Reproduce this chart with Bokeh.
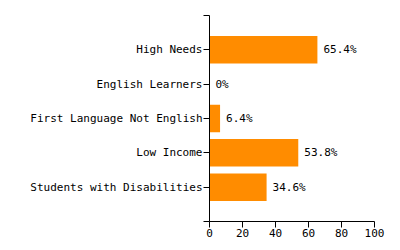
from bokeh.plotting import figure
from bokeh.models import ColumnDataSource, Range1d, FixedTicker
from bokeh.core.properties import value
from bokeh.embed import file_html
from bokeh.resources import INLINE

categories = ["High Needs", "English Learners", "First Language Not English",
              "Low Income", "Students with Disabilities"]
values = [65.4, 0.0, 6.4, 53.8, 34.6]
labels = ["65.4%", "0%", "6.4%", "53.8%", "34.6%"]
x_ticks = [0, 20, 40, 60, 80, 100]

n = len(categories)
ypos = [n - i for i in range(n)]
src = ColumnDataSource(dict(y=ypos, v=values, lab=labels))

FONT = "DejaVu Sans Mono"

p = figure(width=400, height=250, output_backend="svg", toolbar_location=None,
           x_range=Range1d(0, 100), y_range=Range1d(0, n + 1),
           min_border_left=209, min_border_right=26, min_border_top=15, min_border_bottom=29)
p.outline_line_color = None
p.xgrid.visible = False
p.ygrid.visible = False

p.hbar(y="y", right="v", left=0, height=0.8, source=src, color="#FF8C00", line_color=None)
p.text(x="v", y="y", text="lab", source=src, x_offset=6, text_baseline="middle",
       text_align="left", text_font=value(FONT), text_font_size="11px", text_color="black")

p.yaxis.ticker = FixedTicker(ticks=list(range(0, n + 2)))
ov = {0: "", n + 1: ""}
for i, c in enumerate(categories):
    ov[ypos[i]] = c
p.yaxis.major_label_overrides = ov
p.xaxis.ticker = FixedTicker(ticks=x_ticks)

for ax in (p.xaxis[0], p.yaxis[0]):
    ax.major_tick_out = 6
    ax.major_tick_in = 0
    ax.minor_tick_out = 0
    ax.minor_tick_in = 0
    ax.axis_line_color = "black"
    ax.major_tick_line_color = "black"
    ax.major_label_text_font = FONT
    ax.major_label_text_font_size = "11px"
    ax.major_label_text_color = "black"
    ax.major_label_standoff = 1

out = file_html(p, INLINE)
open("out.html", "w").write(out)
